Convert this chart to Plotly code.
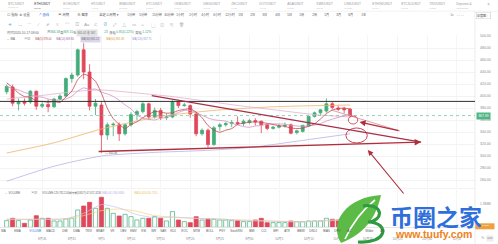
import plotly.graph_objects as go
import pandas as pd

W, H = 498, 244
FONT = "Liberation Sans, Noto Sans CJK SC, DejaVu Sans"
UP, DN = "#42ad7a", "#e0475b"

# ---------------- data ----------------
dates = pd.date_range("2020-08-20", periods=59, freq="D")
opens = [407, 415, 387, 391, 390, 408, 383, 386, 382, 395, 400, 429, 435, 477, 440, 383, 385, 335, 352, 352,
         337, 352, 369, 374, 387, 365, 376, 364, 365, 390, 384, 384, 370, 337, 343, 319, 349, 352, 354, 356,
         354, 356, 359, 358, 352, 346, 348, 350, 352, 339, 341, 350, 366, 372, 375, 387, 380, 379, 378]
highs = [419, 419, 396, 396, 410, 409, 391, 394, 397, 403, 431, 439, 479, 488, 453, 395, 390, 356, 356, 356,
         354, 373, 377, 391, 389, 381, 380, 371, 393, 393, 389, 386, 373, 346, 346, 350, 355, 357, 360, 366,
         361, 362, 363, 359, 353, 350, 353, 356, 354, 344, 352, 368, 374, 378, 396, 390, 384, 382, 380]
lows = [403, 383, 376, 384, 387, 377, 380, 373, 380, 393, 398, 422, 432, 428, 376, 368, 305.4, 327, 333, 325,
        334, 349, 360, 371, 360, 362, 360, 360, 363, 380, 382, 364, 333, 334, 314, 317, 342, 349, 348, 352,
        350, 353, 351, 338, 343, 344, 346, 347, 336, 336, 339, 349, 364, 368, 372, 378, 375, 371, 365]
closes = [416, 388, 390, 388, 408, 383, 386, 382, 395, 400, 429, 435, 477, 440, 383, 388, 335, 352, 353, 337,
          352, 369, 374, 387, 365, 376, 364, 365, 390, 384, 385, 370, 337, 343, 319, 347, 352, 354, 356, 354,
          358, 359, 357, 352, 346, 348, 350, 351, 338, 342, 351, 366, 372, 377, 387, 381, 378, 377, 367.39]
volumes_k = [400, 540, 400, 240, 440, 700, 540, 540, 380, 380, 500, 540, 1040, 1280, 1500, 1140, 1800, 1140,
             840, 680, 780, 640, 440, 540, 540, 640, 540, 380, 940, 440, 340, 280, 640, 440, 500, 480, 440,
             440, 400, 400, 340, 340, 440, 540, 280, 280, 280, 280, 380, 340, 340, 380, 380, 380, 540, 480,
             440, 440, 440]

ma5 = [422, 414, 405, 399, 398, 391.4, 391, 389.4, 390.8, 389.2, 398.4, 408.2, 427.2, 436.2, 432.8, 424.6,
       404.6, 379.6, 362.2, 353, 345.8, 352.6, 357, 363.8, 369.4, 374.2, 373.2, 371.4, 372, 375.8, 377.6,
       378.8, 373.2, 363.8, 350.8, 343.2, 339.6, 343, 345.6, 352.6, 354.8, 356.2, 356.8, 356, 354.4, 352.4,
       350.6, 349.4, 346.6, 345.8, 346.4, 349.6, 353.8, 361.6, 370.6, 376.6, 379, 380, 378]
ma10 = [415, 413, 410, 406, 403, 399, 398, 395, 393, 393.6, 394.9, 399.6, 408.3, 413.5, 411, 411.5, 406.4,
        403.4, 399.2, 392.9, 385.2, 378.6, 368.3, 363, 361.2, 360, 362.9, 364.2, 367.9, 372.6, 375.9, 376,
        372.3, 367.9, 363.3, 360.4, 359.2, 358.1, 354.7, 351.7, 349, 347.9, 349.9, 350.8, 353.5, 353.6, 353.4,
        353.1, 351.3, 350.1, 349.4, 350.1, 351.6, 354.1, 358.2, 361.5, 364.3, 366.9, 369.8]
ma30_idx = [0, 6, 12, 16, 22, 28, 34, 40, 46, 52, 58]
ma30_val = [395, 401, 408, 410, 405, 399, 391, 383, 376, 369, 365]
ma60_idx = [0, 8, 16, 26, 35, 45, 58]
ma60_val = [305, 322, 345, 366, 376, 382, 385]
ma120_idx = [0, 8, 16, 25, 33, 41, 50, 58]
ma120_val = [258, 283, 300, 306, 309, 314, 326, 337]

vma5_idx = [0, 5, 10, 13, 16, 19, 22, 25, 28, 32, 36, 40, 45, 50, 55, 58]
vma5_val = [460, 480, 520, 840, 1360, 1160, 760, 580, 620, 540, 500, 400, 360, 320, 440, 460]
vma10_idx = [0, 5, 10, 13, 16, 19, 22, 25, 30, 35, 40, 45, 50, 55, 58]
vma10_val = [500, 480, 500, 700, 1000, 1100, 960, 700, 560, 500, 440, 380, 340, 400, 420]

price_ticks = [260, 280, 300, 320, 340, 360, 380, 400, 420, 440, 460, 480, 500]
date_ticks = ["2020-08-26", "2020-08-31", "2020-09-05", "2020-09-10", "2020-09-15", "2020-09-20",
              "2020-09-25", "2020-09-30", "2020-10-05", "2020-10-10", "2020-10-15", "2020-10-20",
              "2020-10-25", "2020-10-30", "2020-11-04"]
date_labels = ["8月26", "8月31", "9月5", "9月10", "9月15", "9月20", "9月25", "9月30", "10月5", "10月10",
               "10月15", "10月20", "10月25", "10月30", "11月4"]

resist_level = 391
last_price = 367.39
low_price = 305.36

tab_names = ["BTC/USDT", "ETH/USDT", "EOS/USDT", "HT/USDT", "BNB/USDT", "ETC/USDT", "OKB/USDT", "DMG/USDT",
             "ZEC/USDT", "DOT/USDT", "ADA/USDT", "XMR/USDT", "LINK/USDT", "ETH3S/USDT", "BTC3L/USDT",
             "TRX/USDT", "Deposits &"]
tab_subs = ["11,376.92", "367.39", "2.5786", "4.6912", "30.1530", "5.3005", "5.0814", "0.7012", "66.53",
            "4.1412", "0.1030", "121.51", "10.8621", "3.4680", "0.1612", "0.0257", "Withdrawals"]
periods = ["1分钟", "5分钟", "15分钟", "30分钟", "1小时", "2小时", "4小时", "6小时", "12小时", "1日",
           "2日", "3日", "4日", "5日", "1周", "2周", "1月", "3月", "6月", "1年"]
indicators = ["MA", "EMA", "VOLUME", "MACD", "DMI", "DMA", "TRIX", "BRAR", "VR", "OBV", "EMV", "RSI", "WR",
              "SAR", "KDJ", "ROC", "MTM", "BOLL", "PSY", "StochRSI", "BMI", "CCI", "MFI", "ATR", "BBIW",
              "DKDJ", "BIAS", "DPO", "AC", "Wilder", "AO"]

# ---------------- geometry helpers ----------------
def PX(x):
    return x / W


def PY(y):
    return 1 - y / H


def day(i):
    return pd.Timestamp("2020-08-20") + pd.Timedelta(days=i)


XR = 475 / W
X_RANGE = [day(-1.13), day(79.1)]
P_LO, P_HI = 400 - (188 - 96) / 0.6, 400 + (96 - 35) / 0.6
VMAX = max(volumes_k) * 37.3 / 30

fig = go.Figure()

# ---------------- price traces ----------------
fig.add_trace(go.Candlestick(
    x=dates, open=opens, high=highs, low=lows, close=closes, whiskerwidth=0, hoverinfo="skip",
    increasing=dict(line=dict(color=UP, width=0.8), fillcolor=UP),
    decreasing=dict(line=dict(color=DN, width=0.8), fillcolor=DN),
    xaxis="x", yaxis="y"))


def line(xs, ys, color, width=0.8, ax="x", ay="y"):
    fig.add_trace(go.Scatter(x=xs, y=ys, mode="lines", line=dict(color=color, width=width, shape="spline",
                                                                  smoothing=0.6),
                             hoverinfo="skip", xaxis=ax, yaxis=ay))


line([dates[i] for i in ma120_idx], ma120_val, "#b9b2e6")
line([dates[i] for i in ma60_idx], ma60_val, "#f0b16a")
line([dates[i] for i in ma30_idx], ma30_val, "#e2b3cc")
line(dates, ma10, "#d18fc0")
line(dates, ma5, "#c0444e")

# ---------------- volume ----------------
vol_fill = [DN if c < o else "white" for o, c in zip(opens, closes)]
vol_line = [DN if c < o else UP for o, c in zip(opens, closes)]
fig.add_trace(go.Bar(x=dates, y=volumes_k, marker=dict(color=vol_fill, line=dict(color=vol_line, width=0.7)),
                     hoverinfo="skip", xaxis="x2", yaxis="y2"))
line([dates[i] for i in vma10_idx], vma10_val, "#f2d37a", 0.7, "x2", "y2")
line([dates[i] for i in vma5_idx], vma5_val, "#cbc3ea", 0.7, "x2", "y2")

# ---------------- annotations / shapes ----------------
ann = []
shapes = []


def text(x, y, s, size=3.3, color="#888", anchor="left", **kw):
    ann.append(dict(x=PX(x), y=PY(y), xref="paper", yref="paper", text=s, showarrow=False,
                    xanchor=anchor, yanchor="middle", borderpad=0.3,
                    font=dict(size=size, color=color, family=FONT), **kw))


def hline_px(x0, x1, y, color="#ececec", width=0.7):
    shapes.append(dict(type="line", xref="paper", yref="paper", x0=PX(x0), x1=PX(x1), y0=PY(y), y1=PY(y),
                       line=dict(color=color, width=width)))


# tab bar
tab_x = [7, 33, 62, 90, 118, 145, 173, 202, 230, 258, 286, 315, 343, 371, 400, 428, 455]
for n, s, x in zip(tab_names, tab_subs, tab_x):
    dark = n == "ETH/USDT"
    text(x, 4, n, 3.2, "#333" if dark else "#9a9a9a")
    text(x, 8.3, s, 2.2, "#666" if dark else "#c4c4c4")
text(486, 5, "×", 4.5, "#aaa")
hline_px(0, 498, 11.2)

# toolbar row
tools = [(6, "☐ 指标"), (18, "⚙ 设置"), (37, "↗ 画线"), (57, "▣ 周期"), (76, "⊕ 图表"), (98, "自定义周期 ▾")]
for x, s in tools:
    text(x, 15.5, s, 3.3, "#3b7ddd" if "画线" in s else "#555")
for k, p in enumerate(periods):
    text(126 + 12.3 * k, 15.5, p, 3.1, "#555")
text(449, 15.5, "1s", 3.2, "#777")
text(456, 15.5, "⛶  ⛶", 3.5, "#999")
text(476, 15.5, "深度图 ▢", 3.1, "#555", bordercolor="#cfcfcf", borderwidth=0.5)

# drawing icons row
icons = ["✛", "—", "⋯", "⟋", "✐", "≡", "⌒", "▥", "Aa", "⊏", "⊘", "⤢", "△", "▭", "⌂", "▢", "◫", "⎘", "🗑"]
for k, g in enumerate(icons):
    text(7 + 9.5 * k, 25, g, 4, "#4a90e2" if k in (0, 10) else "#9a9a9a")

# OHLC info row
G = "#3aa876"
info = [(6, "时间2020-10-17 08:00", "#666"), (46, "开", "#666"), (49, "366.58", G), (59, "高", "#666"),
        (62, "369.15", G), (72, "低", "#666"), (103, "23", G), (108, "涨幅", "#666"), (115, "0.81(0.22%)", G),
        (134, "振幅", "#666"), (141, "1.12%", G)]
for x, s, c in info:
    text(x, 32.8, s, 3.2, c)
text(76, 32.8, "365.02 收 367.", 2.9, "#777", bgcolor="#e4e4e4")

# MA legend row
text(6, 40, "–  MA", 2.9, "#666")
text(23, 40, "▣⊠", 3, "#999")
text(34, 40, "MA(5):378.00", 2.7, "#b5524c")
text(55, 40, "MA(10):369.80", 2.7, "#a25fb0")
text(80, 40, "MA(30):365.12", 2.7, "#777", bgcolor="#dcd6ea")
text(105, 40, "MA(60):385.38", 2.7, "#e39a3b")
text(131, 40, "MA(120):337.75", 2.7, "#9d92dd")

# volume legend row
text(4, 193.3, "–  VOLUME", 2.8, "#666")
text(30, 193.3, "▣⊠", 3, "#999")
text(41, 193.3, "VOLUME:129,782.1140", 2.6, "#666")
text(68, 193.3, "成交额(USDT):47,671.3230", 2.6, "#666")
text(101, 193.3, "MA5:441,930.9840", 2.6, "#b7ade6")
text(133, 193.3, "MA10:424,450.7114", 2.6, "#e8c24f")

# indicator tabs row
ind_x = [3, 17, 35, 50, 65, 76, 88, 100, 112, 123, 133, 144, 153, 163, 173, 184, 197, 210, 222, 236, 252,
         264, 276, 287, 301, 313, 326, 338, 349, 369, 383]
for n, x in zip(indicators, ind_x):
    text(x, 231.6, n, 2.9, "#3b7ddd" if n == "VOLUME" else "#555", anchor="center")

# bottom-right controls
shapes.append(dict(type="rect", xref="paper", yref="paper", x0=PX(475), x1=PX(494.5), y0=PY(229.3),
                   y1=PY(223.3), fillcolor="#f0a040", line=dict(width=0)))
text(484.7, 226.3, "12.4136", 2.4, "white", anchor="center")
text(480, 238.3, "%", 3, "#888")
text(486, 238.3, "auto", 2.6, "#888", bgcolor="#ededed")

# separators
shapes.append(dict(type="line", xref="paper", yref="paper", x0=XR, x1=XR, y0=0, y1=PY(11.2),
                   line=dict(color="#e4e4e4", width=0.7)))
hline_px(0, 475, 188.6)

# price pane drawings
shapes.append(dict(type="line", xref="x domain", yref="y", x0=0, x1=1, y0=resist_level, y1=resist_level,
                   line=dict(color="#2f2f2f", width=1)))
shapes.append(dict(type="line", xref="x domain", yref="y", x0=0, x1=1, y0=last_price, y1=last_price,
                   line=dict(color="#79c9a2", width=0.8, dash="dot")))
shapes.append(dict(type="line", xref="x", yref="y", x0=day(24.5), y0=400.5, x1=day(70), y1=323.3,
                   line=dict(color="#a8304a", width=1.3)))
shapes.append(dict(type="line", xref="x", yref="y", x0=day(54.8), y0=376.7, x1=day(66.4), y1=341.7,
                   line=dict(color="#d77787", width=0.7)))
shapes.append(dict(type="circle", xref="x", yref="y", x0=day(57.3), x1=day(60.9), y0=321.7, y1=346.7,
                   line=dict(color="#c2303c", width=0.9)))
shapes.append(dict(type="circle", xref="x", yref="y", x0=day(57.7), x1=day(59.3), y0=353.3, y1=366.7,
                   line=dict(color="#c2303c", width=0.8)))

arrows = [
    dict(x=day(70), y=323.3, ax=-324, ay=9.5, w=1.3),     # lower trend line
    dict(x=day(59.6), y=356.7, ax=40.5, ay=9, w=1.2),     # arrow to small ellipse
    dict(x=day(61.0), y=310, ax=37, ay=45, w=1.1),        # big arrow from below
]
for a in arrows:
    ann.append(dict(x=a["x"], y=a["y"], xref="x", yref="y", ax=a["ax"], ay=a["ay"], text="",
                    showarrow=True, arrowhead=2, arrowsize=1, arrowwidth=a["w"], arrowcolor="#b02f3d"))

ann.append(dict(x=day(16.3), y=low_price, xref="x", yref="y", text=f"— {low_price:.2f}", showarrow=False,
                xanchor="left", yanchor="middle", font=dict(size=2.8, color="#555", family=FONT)))

# current price label
ann.append(dict(x=XR + 0.002, y=last_price, xref="paper", yref="y", text=f"{last_price:.2f}", showarrow=False,
                xanchor="left", yanchor="middle", bgcolor="#4fb584", borderpad=1.2,
                font=dict(size=3.4, color="white", family=FONT)))

# ---------------- watermark ----------------
def path(cmds):
    out = []
    for c, pts in cmds:
        out.append(c + " " + " ".join(f"{PX(x):.5f},{PY(y):.5f}" for x, y in pts))
    return " ".join(out)


shapes.append(dict(type="path", xref="paper", yref="paper", layer="above",
                   path=path([("M", [(341, 243)]), ("C", [(328, 222), (347, 197), (381, 195)]),
                              ("C", [(377, 214), (367, 233), (341, 243)]), ("Z", [])]),
                   fillcolor="#5cbb46", line=dict(width=0)))
shapes.append(dict(type="path", xref="paper", yref="paper", layer="above",
                   path=path([("M", [(345, 239)]), ("C", [(352, 224), (361, 211), (375, 200)])]),
                   line=dict(color="white", width=1.6)))
shapes.append(dict(type="path", xref="paper", yref="paper", layer="above",
                   path=path([("M", [(363, 206)]), ("C", [(384, 203), (384, 221), (368, 222)]),
                              ("C", [(391, 223), (387, 244), (358, 242)])]),
                   line=dict(color="#2f9a3f", width=3.2)))
ann.append(dict(x=PX(436), y=PY(215.5), xref="paper", yref="paper", text="<b>币圈之家</b>", showarrow=False,
                xanchor="center", yanchor="middle",
                font=dict(size=23, color="#2f6fdc", family="Noto Sans CJK SC")))
ann.append(dict(x=PX(433), y=PY(234.2), xref="paper", yref="paper", text="<b>www.tuufy.com</b>",
                showarrow=False, xanchor="center", yanchor="middle",
                font=dict(size=10.5, color="#ef8220", family="Liberation Sans, DejaVu Sans")))

# ---------------- layout ----------------
fig.update_layout(
    width=W, height=H, margin=dict(l=0, r=0, t=0, b=0, autoexpand=False),
    paper_bgcolor="white", plot_bgcolor="white", showlegend=False, hovermode=False,
    bargap=0.3, boxgap=0.3, font=dict(family=FONT),
    annotations=ann, shapes=shapes,
    xaxis=dict(domain=[0, XR], anchor="y", type="date", range=X_RANGE, rangeslider=dict(visible=False),
               showticklabels=False, tickvals=date_ticks, showgrid=True, gridcolor="#f5f5f5", gridwidth=0.6,
               zeroline=False, showline=False, fixedrange=True),
    yaxis=dict(domain=[PY(188), PY(35)], range=[P_LO, P_HI], side="right", tickvals=price_ticks,
               ticktext=[f"{v:.2f}" for v in price_ticks], tickfont=dict(size=3.5, color="#8a8a8a"),
               showgrid=True, gridcolor="#f3f3f3", gridwidth=0.6, zeroline=False, ticks="",
               ticklabelstandoff=4, fixedrange=True),
    xaxis2=dict(domain=[0, XR], anchor="y2", type="date", range=X_RANGE, tickvals=date_ticks,
                ticktext=date_labels, tickfont=dict(size=3.1, color="#8a8a8a"), showgrid=True,
                gridcolor="#f5f5f5", gridwidth=0.6, showline=True, linecolor="#e6e6e6", linewidth=0.6,
                ticks="", ticklabelstandoff=8, zeroline=False, fixedrange=True),
    yaxis2=dict(domain=[PY(227.3), PY(190)], range=[0, VMAX], side="right", tickvals=[1384],
                ticktext=["1.384M"], tickfont=dict(size=3.2, color="#8a8a8a"), showgrid=False,
                zeroline=False, ticks="", ticklabelstandoff=4, fixedrange=True),
)

fig.write_html("out.html")
